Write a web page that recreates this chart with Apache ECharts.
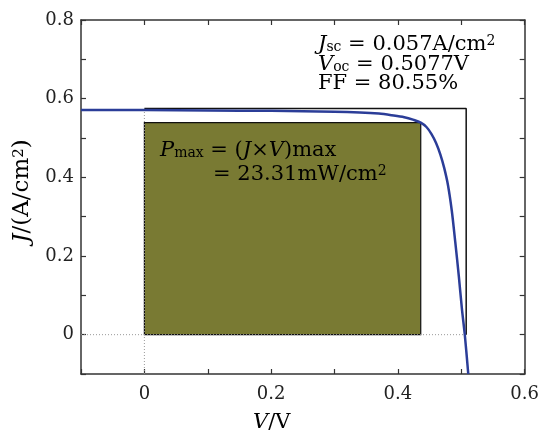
<!DOCTYPE html>
<html>
<head>
<meta charset="utf-8">
<script src="https://cdn.jsdelivr.net/npm/echarts@6/dist/echarts.min.js"></script>
<style>
html, body { margin: 0; padding: 0; background: #fff; }
#main { width: 542px; height: 435px; }
</style>
</head>
<body>
<div id="main"></div>
<script>
// J-V curve
var curveV = [-0.1, 0, 0.1, 0.2, 0.3, 0.34, 0.37, 0.39, 0.41, 0.425, 0.436, 0.445, 0.453, 0.46, 0.467, 0.473, 0.479, 0.485, 0.4905, 0.496, 0.501, 0.5055, 0.511];
var curveJ = [0.571, 0.571, 0.570, 0.569, 0.567, 0.565, 0.562, 0.558, 0.553, 0.546, 0.539, 0.528, 0.510, 0.488, 0.458, 0.424, 0.380, 0.315, 0.235, 0.150, 0.065, 0, -0.1];
var Voc = 0.5077;
var Jsc = 0.575;
var Vmp = 0.436;
var Jmp = 0.539;
var xTickLabels = [0, 0.2, 0.4, 0.6];
var yTickLabels = [0, 0.2, 0.4, 0.6, 0.8];

var serif = 'DejaVu Serif';
var curve = [];
for (var i = 0; i < curveV.length; i++) {
	curve.push([curveV[i], curveJ[i]]);
}

function showLabel(list) {
	return function (v) {
		var r = Math.round(v * 10) / 10;
		for (var k = 0; k < list.length; k++) {
			if (Math.abs(list[k] - r) < 1e-6) return String(r);
		}
		return '';
	};
}

var axisCommon = {
	type: 'value',
	interval: 0.1,
	axisLine: { onZero: false, lineStyle: { color: '#333', width: 1.5 } },
	axisTick: { inside: true, length: 5, lineStyle: { color: '#333', width: 1.2 } },
	splitLine: { show: false }
};

function makeRich(size, small) {
	return {
		n: { fontFamily: serif, fontSize: size, color: '#222', lineHeight: 20, verticalAlign: 'middle' },
		i: { fontFamily: serif, fontSize: size, fontStyle: 'italic', color: '#222', lineHeight: 20, verticalAlign: 'middle' },
		sub: { fontFamily: serif, fontSize: small, color: '#222', lineHeight: small, verticalAlign: 'bottom' },
		sup: { fontFamily: serif, fontSize: small, color: '#222', lineHeight: small, verticalAlign: 'top' }
	};
}
var rich = makeRich(21, 14);
var richY = makeRich(23, 15);

var myChart = echarts.init(document.getElementById('main'));
var option = {
	animation: false,
	backgroundColor: '#fff',
	grid: { left: 81, right: 11, top: 20, bottom: 61 },
	xAxis: [
		Object.assign({}, axisCommon, {
			min: -0.1, max: 0.6, position: 'bottom',
			axisLabel: { formatter: showLabel(xTickLabels), margin: 11, fontFamily: serif, fontSize: 18, color: '#222' }
		}),
		Object.assign({}, axisCommon, {
			min: -0.1, max: 0.6, position: 'top',
			axisLabel: { show: false }
		})
	],
	yAxis: [
		Object.assign({}, axisCommon, {
			min: -0.1, max: 0.8, position: 'left',
			axisLabel: { formatter: showLabel(yTickLabels), margin: 7, fontFamily: serif, fontSize: 18, color: '#222' }
		}),
		Object.assign({}, axisCommon, {
			min: -0.1, max: 0.8, position: 'right',
			axisLabel: { show: false }
		})
	],
	series: [
		{
			// dotted guide lines
			type: 'line', symbol: 'none', silent: true,
			data: [[-0.1, 0], [Voc, 0]],
			lineStyle: { color: '#999', width: 1, type: [1, 2] },
			markArea: {
				silent: true,
				itemStyle: { color: '#797a33', borderColor: '#111', borderWidth: 1.2 },
				data: [[{ coord: [0, 0] }, { coord: [Vmp, Jmp] }]]
			},
			z: 1
		},
		{
			type: 'line', symbol: 'none', silent: true,
			data: [[0, -0.1], [0, Jsc]],
			lineStyle: { color: '#999', width: 1, type: [1, 2] },
			z: 1
		},
		{
			// ideal rectangle Jsc x Voc
			type: 'line', symbol: 'none', silent: true,
			data: [[0, Jsc], [Voc, Jsc], [Voc, 0]],
			lineStyle: { color: '#111', width: 1.5 },
			z: 3
		},
		{
			type: 'line', symbol: 'none', silent: true, smooth: 0.3,
			data: curve,
			lineStyle: { color: '#2b3d98', width: 2.5 },
			z: 4
		}
	],
	graphic: [
		{
			type: 'text', left: 318, top: 34, z: 10,
			style: { text: '{i|J}{sub|sc}{n| = 0.057A/cm}{sup|2}', rich: rich }
		},
		{
			type: 'text', left: 318, top: 54, z: 10,
			style: { text: '{i|V}{sub|oc}{n| = 0.5077V}', rich: rich }
		},
		{
			type: 'text', left: 318, top: 73, z: 10,
			style: { text: '{n|FF = 80.55%}', rich: rich }
		},
		{
			type: 'text', left: 160, top: 140, z: 10,
			style: { text: '{i|P}{sub|max}{n| = (}{i|J}{n|×}{i|V}{n|)max}', rich: rich }
		},
		{
			type: 'text', left: 213, top: 164, z: 10,
			style: { text: '{n|= 23.31mW/cm}{sup|2}', rich: rich }
		},
		{
			type: 'text', left: 253, top: 412, z: 10,
			style: { text: '{i|V}{n|/V}', rich: rich }
		},
		{
			type: 'text', x: 22, y: 191, rotation: Math.PI / 2, z: 10,
			style: { text: '{i|J}{n|/(A/cm}{sup|2}{n|)}', rich: richY, align: 'center', verticalAlign: 'middle' }
		}
	]
};
myChart.setOption(option);
</script>
</body>
</html>
